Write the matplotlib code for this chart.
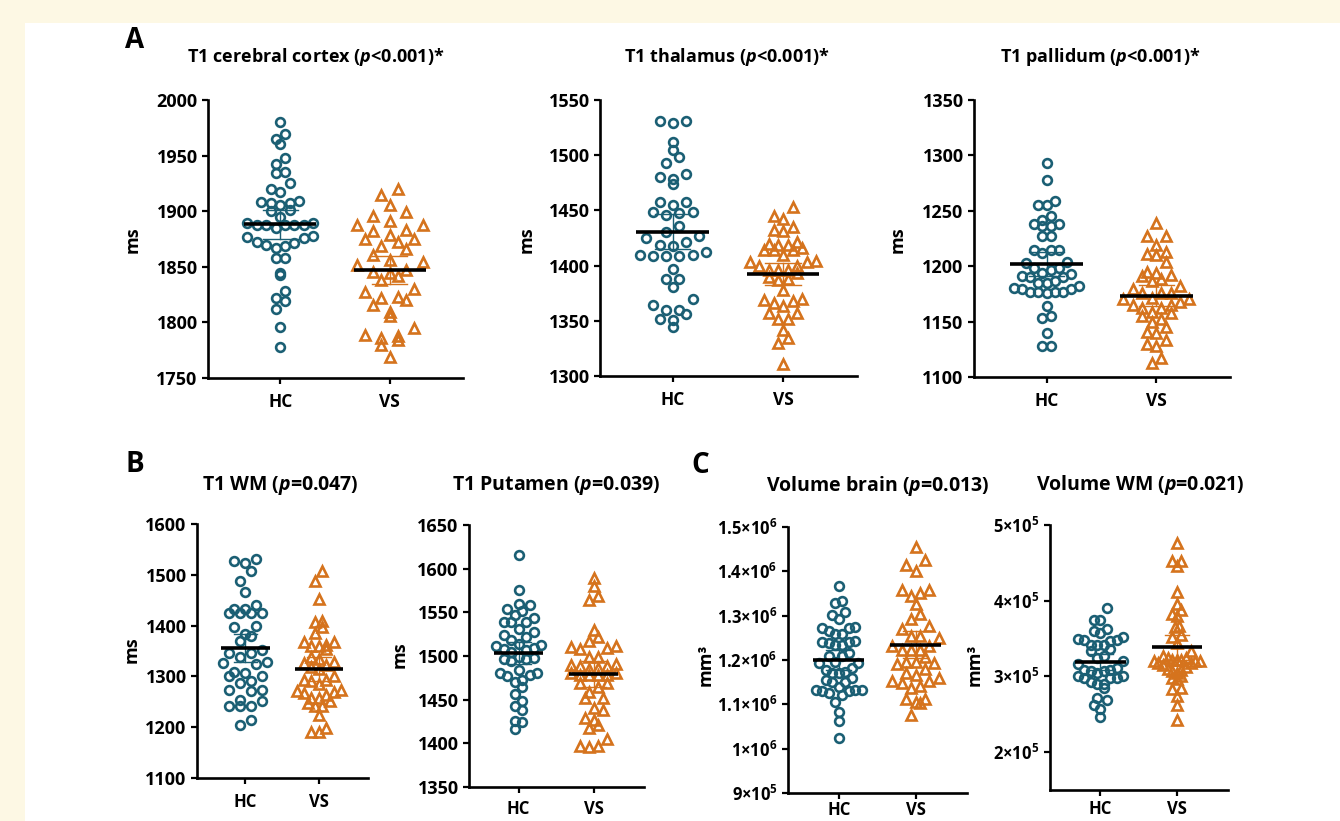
import numpy as np
import matplotlib.pyplot as plt
from matplotlib.patches import Rectangle

plt.rcParams['font.family'] = ['Open Sans', 'DejaVu Sans']
plt.rcParams['font.weight'] = 'bold'
plt.rcParams['mathtext.fontset'] = 'custom'
plt.rcParams['mathtext.it'] = 'Open Sans:italic:bold'
plt.rcParams['mathtext.rm'] = 'Open Sans:bold'

# values (ms, or mm3 in thousands for the volumes)
groups = ['HC', 'VS']

a1_hc = [1980, 1969, 1965, 1960, 1948, 1942, 1934, 1935, 1925, 1920, 1917, 1907, 1906, 1908,
         1909, 1907, 1895, 1900, 1901, 1889, 1888, 1888, 1889, 1888, 1888, 1888, 1885, 1878,
         1877, 1876, 1870, 1871, 1867, 1869, 1872, 1858, 1858, 1843, 1844, 1828, 1822, 1819,
         1812, 1796, 1778]
a1_vs = [1883, 1875, 1856, 1844, 1822, 1788, 1920, 1899, 1888, 1879, 1869, 1861, 1847, 1838,
         1827, 1816, 1806, 1795, 1784, 1915, 1906, 1896, 1888, 1875, 1866, 1852, 1842, 1830,
         1820, 1809, 1789, 1780, 1891, 1882, 1872, 1854, 1845, 1823, 1786, 1769]

a2_hc = [1531, 1529, 1531, 1512, 1505, 1498, 1493, 1480, 1474, 1478, 1483, 1455, 1458, 1458,
         1446, 1449, 1448, 1449, 1436, 1425, 1430, 1427, 1418, 1421, 1419, 1410, 1412, 1409,
         1409, 1409, 1410, 1397, 1381, 1388, 1388, 1370, 1364, 1360, 1352, 1360, 1351, 1356,
         1344]
a2_vs = [1453, 1445, 1442, 1431, 1432, 1435, 1421, 1416, 1414, 1419, 1414, 1414, 1419, 1420,
         1410, 1400, 1403, 1404, 1400, 1403, 1396, 1393, 1396, 1396, 1387, 1390, 1388, 1378,
         1370, 1366, 1368, 1369, 1363, 1357, 1357, 1352, 1352, 1342, 1334, 1330, 1311]

a3_hc = [1293, 1278, 1259, 1255, 1255, 1245, 1238, 1238, 1236, 1236, 1242, 1227, 1227, 1215,
         1215, 1215, 1212, 1204, 1198, 1198, 1203, 1197, 1190, 1190, 1194, 1193, 1191, 1182,
         1187, 1185, 1185, 1180, 1177, 1177, 1176, 1179, 1177, 1177, 1179, 1164, 1155, 1153,
         1140, 1128, 1128]
a3_vs = [1239, 1227, 1227, 1219, 1213, 1211, 1210, 1204, 1194, 1195, 1192, 1191, 1188, 1187,
         1182, 1176, 1171, 1176, 1176, 1170, 1179, 1165, 1165, 1168, 1162, 1170, 1162, 1159,
         1152, 1158, 1155, 1150, 1145, 1141, 1140, 1133, 1130, 1128, 1113, 1117]

b1_hc = [1527, 1524, 1531, 1508, 1487, 1466, 1433, 1424, 1441, 1424, 1424, 1424, 1433, 1398,
         1400, 1369, 1384, 1379, 1351, 1347, 1339, 1347, 1329, 1326, 1325, 1300, 1306, 1300,
         1308, 1290, 1287, 1274, 1272, 1274, 1254, 1241, 1251, 1242, 1242, 1215, 1204]
b1_vs = [1508, 1488, 1452, 1410, 1408, 1397, 1385, 1367, 1359, 1354, 1362, 1360, 1367, 1339,
         1334, 1327, 1329, 1314, 1318, 1323, 1300, 1286, 1293, 1290, 1292, 1274, 1264, 1272,
         1267, 1270, 1251, 1241, 1257, 1247, 1257, 1242, 1225, 1190, 1198, 1190]

b2_hc = [1616, 1576, 1559, 1558, 1554, 1552, 1547, 1543, 1539, 1539, 1539, 1531, 1524, 1527,
         1522, 1518, 1514, 1513, 1505, 1508, 1507, 1511, 1509, 1496, 1498, 1494, 1496, 1499,
         1481, 1484, 1477, 1480, 1478, 1470, 1473, 1464, 1457, 1448, 1443, 1438, 1426, 1424,
         1416]
b2_vs = [1589, 1580, 1569, 1564, 1530, 1522, 1510, 1508, 1512, 1517, 1509, 1499, 1499, 1491,
         1490, 1485, 1488, 1488, 1486, 1478, 1480, 1480, 1478, 1478, 1478, 1469, 1464, 1469,
         1459, 1452, 1452, 1440, 1438, 1429, 1427, 1421, 1417, 1405, 1396, 1397, 1397]

c1_hc = [1367, 1332, 1328, 1302, 1309, 1292, 1272, 1274, 1272, 1259, 1259, 1266, 1240, 1238,
         1234, 1234, 1240, 1242, 1210, 1210, 1215, 1193, 1196, 1178, 1171, 1174, 1170, 1155,
         1151, 1151, 1159, 1132, 1132, 1129, 1125, 1140, 1132, 1106, 1121, 1083, 1063, 1023,
         1193, 1181, 1130]
c1_vs = [1455, 1415, 1426, 1401, 1351, 1357, 1358, 1345, 1326, 1303, 1292, 1277, 1269, 1254,
         1254, 1249, 1232, 1223, 1223, 1223, 1232, 1206, 1193, 1196, 1196, 1191, 1179, 1171,
         1166, 1153, 1159, 1141, 1153, 1149, 1136, 1111, 1104, 1106, 1113, 1076]

c2_hc = [390, 374, 375, 352, 358, 362, 360, 348, 350, 348, 347, 342, 341, 342, 333, 336, 325,
         327, 316, 309, 307, 305, 307, 309, 311, 298, 300, 298, 300, 298, 290, 285, 290, 292,
         269, 271, 262, 257, 247, 320]
c2_vs = [476, 452, 452, 446, 412, 396, 388, 382, 380, 367, 365, 355, 352, 344, 322, 325, 327,
         333, 320, 320, 322, 322, 318, 307, 309, 310, 298, 296, 285, 283, 274, 262, 243, 325,
         321, 318, 315, 312, 305, 300]

W, H = 1340, 821
TEAL = '#1b5f74'
ORANGE = '#d5731d'

fig = plt.figure(figsize=(W / 100, H / 100), dpi=100)
fig.patch.set_facecolor('#fdf8e4')
fig.add_artist(Rectangle((25 / W, 0), 1, 1 - 23 / H, transform=fig.transFigure,
                         fc='white', ec='none', zorder=0))


def px(x, y):
    return x / W, 1 - y / H


def swarm_x(ax, xc, vals, bin_px=13.0, span=0.6, max_step=0.15):
    vals = np.asarray(vals, float)
    pts = np.column_stack([np.full(vals.size, xc), vals])
    ypx = ax.transData.transform(pts)[:, 1]
    y0 = ax.transData.transform((xc, ax.get_ylim()[0]))[1]
    rows = np.floor((ypx - y0) / bin_px).astype(int)
    nmax = max(np.bincount(rows - rows.min()).max(), 2)
    step = min(span / (nmax - 1), max_step)
    xs = np.empty(vals.size)
    for r in np.unique(rows):
        idx = np.where(rows == r)[0]
        idx = idx[np.argsort(vals[idx])]
        n = idx.size
        slots = (np.arange(n) - (n - 1) / 2) * step
        order = np.argsort(np.abs(slots), kind='stable')
        xs[idx] = xc + slots[order]
    return xs


def sci(v):
    e = int(np.floor(np.log10(v)))
    m = v / 10 ** e
    ms = ('%.1f' % m).rstrip('0').rstrip('.')
    return ms + '\u00d710$^{\\mathdefault{%d}}$' % e


panels = [
    (a1_hc, a1_vs, 1, (208, 463, 100, 378), (1750, 2000), np.arange(1750, 2001, 50),
     'T1 cerebral cortex ($\\mathit{p}$<0.001)*', (316, 57), 'ms', (133, 240), 6),
    (a2_hc, a2_vs, 1, (600, 857, 100, 376), (1300, 1550), np.arange(1300, 1551, 50),
     'T1 thalamus ($\\mathit{p}$<0.001)*', (727, 57), 'ms', (527, 240), 6),
    (a3_hc, a3_vs, 1, (974, 1230, 100, 377), (1100, 1350), np.arange(1100, 1351, 50),
     'T1 pallidum ($\\mathit{p}$<0.001)*', (1100, 57), 'ms', (898, 240), 6),
    (b1_hc, b1_vs, 1, (197, 368, 524, 778), (1100, 1600), np.arange(1100, 1601, 100),
     'T1 WM ($\\mathit{p}$=0.047)', (280, 485), 'ms', (132, 650), 6),
    (b2_hc, b2_vs, 1, (469, 644, 525, 787), (1350, 1650), np.arange(1350, 1651, 50),
     'T1 Putamen ($\\mathit{p}$=0.039)', (556, 485), 'ms', (400, 655), 4.5),
    (c1_hc, c1_vs, 1000, (788, 967, 527, 793), (9e5, 1.5e6), np.arange(9e5, 1.51e6, 1e5),
     'Volume brain ($\\mathit{p}$=0.013)', (878, 486), 'mm\u00b3', (706, 665), 1.5),
    (c2_hc, c2_vs, 1000, (1050, 1228, 525, 790), (1.5e5, 5e5), np.arange(2e5, 5.1e5, 1e5),
     'Volume WM ($\\mathit{p}$=0.021)', (1140, 485), 'mm\u00b3', (975, 665), 3),
]

for hc, vs, scale, (l, r, t, b), ylim, yticks, title, tpos, ylab, lpos, xpad in panels:
    ax = fig.add_axes([l / W, 1 - b / H, (r - l) / W, (b - t) / H])
    ax.set_facecolor('none')
    ax.set_xlim(0.34, 2.67)
    ax.set_ylim(*ylim)
    small = (r - l) < 200
    for xc, vals, col, mk, msz in [(1, hc, TEAL, 'o', 6.3), (2, vs, ORANGE, '^', 7.2)]:
        vals = np.asarray(vals, float) * scale
        xs = swarm_x(ax, xc, vals)
        ax.plot(xs, vals, ls='none', marker=mk, ms=msz, mfc='none', mec=col, mew=1.9,
                zorder=3, clip_on=False)
        m = vals.mean()
        ci = 1.96 * vals.std(ddof=1) / np.sqrt(vals.size)
        ax.plot([xc, xc], [m - ci, m + ci], color=col, lw=1.0, zorder=4)
        for yy in (m - ci, m + ci):
            ax.plot([xc - 0.16, xc + 0.16], [yy, yy], color=col, lw=1.0, zorder=4)
        ax.plot([xc - 0.33, xc + 0.33], [m, m], color='black', lw=2.6, zorder=5,
                solid_capstyle='butt')
    for s in ('top', 'right'):
        ax.spines[s].set_visible(False)
    for s in ('left', 'bottom'):
        ax.spines[s].set_linewidth(1.9)
    ax.set_xticks([1, 2])
    ax.set_xticklabels(groups)
    ax.set_yticks(yticks)
    if scale != 1:
        ax.set_yticklabels([sci(v) for v in yticks])
    else:
        ax.set_yticklabels(['%d' % v for v in yticks])
    ax.tick_params(length=4.5, width=1.6, direction='out', pad=3,
                   labelsize=12 if scale != 1 else 13)
    ax.tick_params(axis='x', pad=xpad, labelsize=12 if small else 12.5)
    fig.text(*px(*tpos), title, ha='center', va='center', fontsize=14 if small else 13,
             fontweight='bold')
    fig.text(*px(*lpos), ylab, ha='center', va='center', rotation=90, fontsize=13,
             fontweight='bold')

for letter, pos in [('A', (135, 40)), ('B', (135, 464)), ('C', (700, 465))]:
    fig.text(*px(*pos), letter, ha='center', va='center', fontsize=20, fontweight='bold')

fig.savefig('out.png', dpi=100, facecolor=fig.get_facecolor())
